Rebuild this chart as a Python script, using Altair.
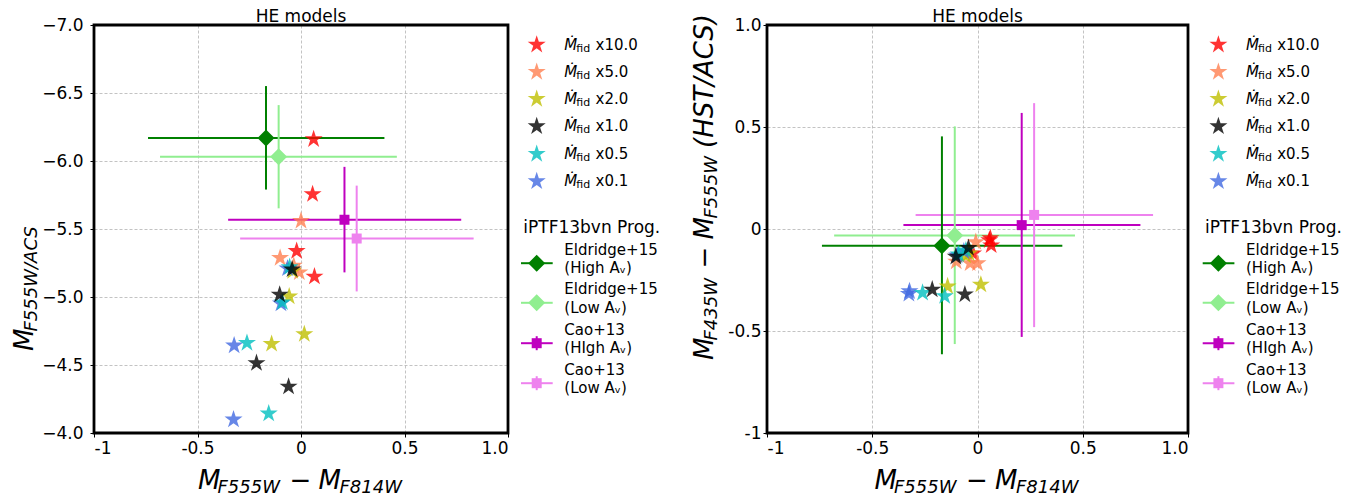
import altair as alt
import pandas as pd

FONT = "DejaVu Sans"
H = 408
W_LEFT, W_RIGHT = 414, 421
LEG_LEFT, LEG_RIGHT = 259, 172
STAR_SIZE = 360
STAR = ("M0,-1L0.2245,-0.309L0.9511,-0.309L0.3633,0.118L0.5878,0.809L0,0.382"
        "L-0.5878,0.809L-0.3633,0.118L-0.9511,-0.309L-0.2245,-0.309Z")

# ---------------- data ----------------
rate_labels = ["x10.0", "x5.0", "x2.0", "x1.0", "x0.5", "x0.1"]
rate_colors = ["#ff0000", "#ff7f50", "#bfbf00", "#000000", "#00bfbf", "#4169e1"]
draw_rank = [0, 1, 2, 5, 4, 3]

# F555W-F814W colour, F555W magnitude, F435W-F555W colour (4 models per rate)
r10_vi = [0.061, 0.056, -0.021, 0.065]
r10_mag = [-6.160, -5.756, -5.338, -5.150]
r10_bv = [-0.045, -0.055, -0.120, -0.080]
r5_vi = [0.000, -0.101, -0.008, -0.035]
r5_mag = [-5.560, -5.287, -5.181, -5.230]
r5_bv = [-0.168, -0.160, -0.064, -0.168]
r2_vi = [-0.057, -0.142, 0.016, -0.040]
r2_mag = [-5.004, -4.655, -4.727, -5.190]
r2_bv = [-0.130, -0.281, -0.273, -0.120]
r1_vi = [-0.043, -0.103, -0.215, -0.060]
r1_mag = [-5.203, -5.017, -4.514, -4.341]
r1_bv = [-0.093, -0.136, -0.297, -0.321]
r05_vi = [-0.261, -0.156, -0.055, -0.090]
r05_mag = [-4.662, -4.143, -5.220, -4.960]
r05_bv = [-0.313, -0.329, -0.105, -0.125]
r01_vi = [-0.323, -0.326, -0.097, -0.065]
r01_mag = [-4.643, -4.099, -4.952, -5.210]
r01_bv = [-0.305, -0.318, -0.130, -0.110]

prog_line1 = ["Eldridge+15", "Eldridge+15", "Cao+13", "Cao+13"]
prog_line2 = ["(High Aᵥ)", "(Low Aᵥ)", "(HIgh Aᵥ)", "(Low Aᵥ)"]
prog_colors = ["#008000", "#90ee90", "#bf00bf", "#ee82ee"]
prog_shapes = ["diamond", "diamond", "square", "square"]
prog_msize = [290, 290, 100, 100]
prog_vi = [-0.169, -0.108, 0.210, 0.269]
prog_vi_lo = [-0.739, -0.681, -0.352, -0.294]
prog_vi_hi = [0.403, 0.463, 0.774, 0.834]
prog_mag = [-6.169, -6.031, -5.568, -5.430]
prog_mag_lo = [-6.551, -6.411, -5.957, -5.819]
prog_mag_hi = [-5.790, -5.652, -5.181, -5.041]
prog_bv = [-0.082, -0.032, 0.019, 0.069]
prog_bv_lo = [-0.614, -0.564, -0.529, -0.481]
prog_bv_hi = [0.454, 0.503, 0.569, 0.617]

tick_vals = [-1, -0.5, 0, 0.5, 1]
mag_ticks = [-7.0, -6.5, -6.0, -5.5, -5.0, -4.5, -4.0]

# ---------------- tables ----------------
groups = [(r10_vi, r10_mag, r10_bv), (r5_vi, r5_mag, r5_bv), (r2_vi, r2_mag, r2_bv),
          (r1_vi, r1_mag, r1_bv), (r05_vi, r05_mag, r05_bv), (r01_vi, r01_mag, r01_bv)]
rows = []
for k, (vi, mag, bv) in enumerate(groups):
    for a, b, c in zip(vi, mag, bv):
        rows.append(dict(rate=rate_labels[k], col=rate_colors[k], z=draw_rank[k], vi=a, mag=b, bv=c))
stars_df = pd.DataFrame(rows)

prog_df = pd.DataFrame(dict(col=prog_colors, shape=prog_shapes, msize=prog_msize,
                            vi=prog_vi, vi_lo=prog_vi_lo, vi_hi=prog_vi_hi,
                            mag=prog_mag, mag_lo=prog_mag_lo, mag_hi=prog_mag_hi,
                            bv=prog_bv, bv_lo=prog_bv_lo, bv_hi=prog_bv_hi))

# ---------------- helpers ----------------
def T(t, x, y, size, italic=False, angle=None, align="left", baseline="alphabetic"):
    kw = dict(font=FONT, fontSize=size, align=align, baseline=baseline, color="black")
    if italic:
        kw["fontStyle"] = "italic"
    if angle is not None:
        kw["angle"] = angle
    return alt.Chart(pd.DataFrame({"t": [t]})).mark_text(**kw).encode(
        text="t:N", x=alt.value(x), y=alt.value(y))


def pin(x, y):
    return alt.Chart(pd.DataFrame({"t": [0]})).mark_point(
        size=1, opacity=0, filled=True, strokeWidth=0).encode(x=alt.value(x), y=alt.value(y))


def frame(width):
    return alt.Chart(pd.DataFrame({"t": [0]})).mark_rect(
        fillOpacity=0, stroke="black", strokeWidth=2.8).encode(
        x=alt.value(0), x2=alt.value(width), y=alt.value(0), y2=alt.value(H))


no_frame = alt.ViewBackground(stroke=None)

hyph_expr = ("datum.value == 0 ? '0' : datum.value == -1 ? '-1' : "
             "replace(format(datum.value, '.1f'), '\u2212', '-')")

axis_common = dict(grid=True, gridDash=[3, 2], gridColor="#b4b4b4", gridWidth=0.8,
                   tickColor="black", tickSize=4, tickWidth=1, domain=False,
                   labelFont=FONT, labelFontSize=17, labelColor="black", title=None)

xscale = alt.Scale(domain=[-1, 1], nice=False, zero=False)
xaxis = alt.Axis(values=tick_vals, labelExpr=hyph_expr, labelPadding=3, **axis_common)


def panel(width, ycol, yscale, yaxis, extra):
    X = lambda f: alt.X(f"{f}:Q", scale=xscale, axis=xaxis)
    Y = lambda f: alt.Y(f"{f}:Q", scale=yscale, axis=yaxis)
    colr = alt.Color("col:N", scale=None)
    hbar = alt.Chart(prog_df).mark_rule(strokeWidth=2).encode(
        x=X("vi_lo"), x2="vi_hi:Q", y=Y(ycol), color=colr)
    vbar = alt.Chart(prog_df).mark_rule(strokeWidth=2).encode(
        x=X("vi"), y=Y(ycol + "_lo"), y2=f"{ycol}_hi:Q", color=colr)
    mk = alt.Chart(prog_df).mark_point(filled=True, opacity=1, strokeWidth=0).encode(
        x=X("vi"), y=Y(ycol), color=colr,
        shape=alt.Shape("shape:N", scale=None), size=alt.Size("msize:Q", scale=None))
    st = alt.Chart(stars_df).mark_point(shape=STAR, filled=True, size=STAR_SIZE,
                                        opacity=0.8, strokeWidth=0).encode(
        x=X("vi"), y=Y(ycol), color=colr, order=alt.Order("z:Q"))
    title = T("HE models", width / 2, -3, 17, align="center")
    s = (width - 206) / 2
    xb = H + 56
    xt = [T("M", s, xb, 26, True), T("F555W", s + 19.5, xb + 3.5, 18, True),
          T("\u2212", s + 102.5, xb, 26, align="center"),
          T("M", s + 120.5, xb, 26, True), T("F814W", s + 141.5, xb + 3.5, 18, True)]
    return alt.layer(hbar, vbar, mk, st, frame(width), title, *xt, *extra).properties(
        width=width, height=H, view=no_frame)


# left panel
yscale_l = alt.Scale(domain=[-7, -4], reverse=True, nice=False, zero=False)
yaxis_l = alt.Axis(values=mag_ticks, format=".1f", labelPadding=7, **axis_common)
ya = H - 82
left_extra = [T("M", -61, ya, 26, True, angle=270),
              T("F555W/ACS", -57, ya - 19.5, 18, True, angle=270),
              pin(-85, H / 2)]
left = panel(W_LEFT, "mag", yscale_l, yaxis_l, left_extra)

# right panel
yscale_r = alt.Scale(domain=[-1, 1], nice=False, zero=False)
yaxis_r = alt.Axis(values=tick_vals, labelExpr=hyph_expr, labelPadding=2, **axis_common)
yb = H - 73
right_extra = [T("M", -53.7, yb, 26, True, angle=270),
               T("F435W", -49.7, yb - 19.5, 18, True, angle=270),
               T("\u2212", -53.7, yb - 102.5, 26, angle=270, align="center"),
               T("M", -53.7, yb - 120.5, 26, True, angle=270),
               T("F555W", -49.7, yb - 141.5, 18, True, angle=270),
               T("(HST/ACS)", -53.7, yb - 212, 26, True, angle=270)]
right = panel(W_RIGHT, "bv", yscale_r, yaxis_r, right_extra)

# ---------------- legends ----------------
star_rows = [19.7, 47.0, 74.0, 101.3, 129.0, 156.3]
prog_rows1 = [224.7, 264.3, 304.7, 344.7]


def legend(width, dx):
    sdf = pd.DataFrame(dict(col=rate_colors, py=star_rows, lab=rate_labels,
                            m=["\u1e40"] * 6, fid=["fid"] * 6))
    sdf["pys"] = sdf["py"] + 4
    PY = lambda f: alt.Y(f"{f}:Q", scale=None, axis=None)
    stars = alt.Chart(sdf).mark_point(shape=STAR, filled=True, size=STAR_SIZE,
                                      opacity=0.8, strokeWidth=0).encode(
        x=alt.value(28.7 + dx), y=PY("py"), color=alt.Color("col:N", scale=None))
    tkw = dict(font=FONT, align="left", baseline="middle", color="black")
    m = alt.Chart(sdf).mark_text(fontSize=15, fontStyle="italic", **tkw).encode(
        x=alt.value(56.3 + dx), y=PY("py"), text="m:N")
    fid = alt.Chart(sdf).mark_text(fontSize=11, **tkw).encode(
        x=alt.value(68.3 + dx), y=PY("pys"), text="fid:N")
    lab = alt.Chart(sdf).mark_text(fontSize=15, **tkw).encode(
        x=alt.value(87.5 + dx), y=PY("py"), text="lab:N")
    pdf = pd.DataFrame(dict(col=prog_colors, shape=prog_shapes, msize=prog_msize,
                            l1=prog_line1, l2=prog_line2, y1=prog_rows1))
    pdf["y2"] = pdf["y1"] + 18.3
    pdf["ys"] = pdf["y1"] + 13.5
    pdf["ya"] = pdf["ys"] - 7
    pdf["yb"] = pdf["ys"] + 7
    colr = alt.Color("col:N", scale=None)
    hl = alt.Chart(pdf).mark_rule(strokeWidth=2).encode(
        x=alt.value(13 + dx), x2=alt.value(44.7 + dx), y=PY("ys"), color=colr)
    vl = alt.Chart(pdf).mark_rule(strokeWidth=2).encode(
        x=alt.value(28.7 + dx), y=PY("ya"), y2="yb:Q", color=colr)
    pm = alt.Chart(pdf).mark_point(filled=True, opacity=1, strokeWidth=0).encode(
        x=alt.value(28.7 + dx), y=PY("ys"), color=colr,
        shape=alt.Shape("shape:N", scale=None), size=alt.Size("msize:Q", scale=None))
    t1 = alt.Chart(pdf).mark_text(fontSize=15, **tkw).encode(
        x=alt.value(56.3 + dx), y=PY("y1"), text="l1:N")
    t2 = alt.Chart(pdf).mark_text(fontSize=15, **tkw).encode(
        x=alt.value(56.3 + dx), y=PY("y2"), text="l2:N")
    ttl = T("iPTF13bvn Prog.", 15.3 + dx, 203, 17, baseline="middle")
    return alt.layer(stars, m, fid, lab, hl, vl, pm, t1, t2, ttl).properties(
        width=width, height=H, view=no_frame)


chart = alt.hconcat(left, legend(LEG_LEFT, 0), right, legend(LEG_RIGHT, 1.7),
                    spacing=0, bounds="flush").properties(padding=0).configure_view(
    strokeWidth=0).configure(font=FONT)

chart.save("out.html", embed_options={"renderer": "svg", "actions": False})
